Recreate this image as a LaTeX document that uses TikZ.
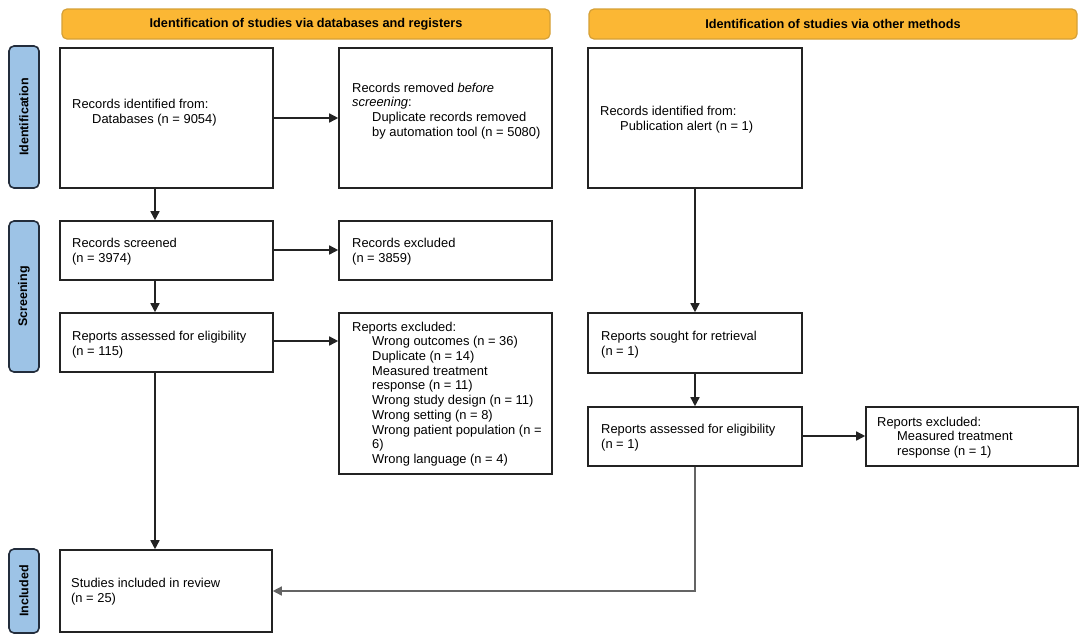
\documentclass[tikz,border=0pt]{standalone}
\usepackage{fontspec}
\setmainfont{Liberation Sans}
\usetikzlibrary{arrows.meta,fit,calc}
\definecolor{hdrfill}{RGB}{251,183,52}
\definecolor{hdrline}{RGB}{214,160,55}
\definecolor{sidefill}{RGB}{157,195,230}
\definecolor{sideline}{RGB}{35,45,60}
\definecolor{boxline}{RGB}{35,35,35}
\definecolor{grayline}{RGB}{100,100,100}
\newcommand{\ind}{\hspace*{20pt}}
\begin{document}
\begin{tikzpicture}[x=1pt,y=-1pt,
  box/.style={draw=boxline, line width=1.6pt, inner sep=0pt},
  hdr/.style={draw=hdrline, fill=hdrfill, line width=1.2pt, rounded corners=5pt, inner sep=0pt},
  side/.style={draw=sideline, fill=sidefill, line width=1.6pt, rounded corners=5pt, inner sep=0pt},
  txt/.style={inner sep=0pt, align=left, anchor=west, font=\fontsize{12.9}{14.7}\selectfont},
  hdrtxt/.style={inner sep=0pt, font=\bfseries\fontsize{12.7}{14}\selectfont},
  sidetxt/.style={inner sep=0pt, rotate=90, font=\bfseries\fontsize{12.5}{14}\selectfont},
  arr/.style={draw=boxline, line width=1.5pt, -{Triangle[length=9pt,width=9pt]}},
  grayarr/.style={draw=grayline, line width=1.5pt, -{Triangle[length=9pt,width=9pt]}},
]
\fill[white] (0,0) rectangle (1084,641);
\useasboundingbox (0,0) rectangle (1084,641);

% headers
\node[hdr, fit={(62,9) (550,39)}] (h1) {};
\node[hdrtxt] (h1t) at (h1.center) {Identification of studies via databases and registers};
\node[hdr, fit={(589,9) (1077,39)}] (h2) {};
\node[hdrtxt] (h2t) at (h2.center) {Identification of studies via other methods};

% side labels
\node[side, fit={(9,46) (39,188)}] (s1) {};
\node[sidetxt] (s1t) at (s1.center) {Identification};
\node[side, fit={(9,221) (39,372)}] (s2) {};
\node[sidetxt] (s2t) at (s2.center) {Screening};
\node[side, fit={(9,549) (39,633)}] (s3) {};
\node[sidetxt] (s3t) at (s3.center) {Included};

% boxes
\node[box, fit={(60,48) (273,188)}] (a) {};
\node[box, fit={(339,48) (552,188)}] (b) {};
\node[box, fit={(588,48) (802,188)}] (c) {};
\node[box, fit={(60,221) (273,280)}] (d) {};
\node[box, fit={(339,221) (552,280)}] (e) {};
\node[box, fit={(60,313) (273,372)}] (f) {};
\node[box, fit={(339,313) (552,474)}] (g) {};
\node[box, fit={(588,313) (802,373)}] (h) {};
\node[box, fit={(588,407) (802,466)}] (i) {};
\node[box, fit={(866,407) (1078,466)}] (j) {};
\node[box, fit={(60,550) (272,632)}] (k) {};

% texts
\node[txt] (ta) at (72,113) {Records identified from:\\\ind Databases (n = 9054)};
\node[txt] (tb) at (352,111) {Records removed \textit{before}\\\textit{screening}:\\\ind Duplicate records removed\\\ind by automation tool (n = 5080)};
\node[txt] (tc) at (600,120) {Records identified from:\\\ind Publication alert (n = 1)};
\node[txt] (td) at (72,251.5) {Records screened\\(n = 3974)};
\node[txt] (te) at (352,251.5) {Records excluded\\(n = 3859)};
\node[txt] (tf) at (72,344.5) {Reports assessed for eligibility\\(n = 115)};
\node[txt] (tg) at (352,394) {Reports excluded:\\\ind Wrong outcomes (n = 36)\\\ind Duplicate (n = 14)\\\ind Measured treatment\\\ind response (n = 11)\\\ind Wrong study design (n = 11)\\\ind Wrong setting (n = 8)\\\ind Wrong patient population (n =\\\ind 6)\\\ind Wrong language (n = 4)};
\node[txt] (th) at (601,345) {Reports sought for retrieval\\(n = 1)};
\node[txt] (ti) at (601,438) {Reports assessed for eligibility\\(n = 1)};
\node[txt] (tj) at (877,437.5) {Reports excluded:\\\ind Measured treatment\\\ind response (n = 1)};
\node[txt] (tk) at (71,591.5) {Studies included in review\\(n = 25)};

% connectors
\coordinate (colL) at (155,0);
\draw[arr] (colL |- a.south) -- (colL |- d.north);
\draw[arr] (colL |- d.south) -- (colL |- f.north);
\draw[arr] (colL |- f.south) -- (colL |- k.north);
\draw[arr] (a.east) -- (b.west);
\draw[arr] ($(d.east)+(0,-0.5)$) -- ($(e.west)+(0,-0.5)$);
\draw[arr] ($(f.east)+(0,-1.5)$) -- ($(f.east -| g.west)+(0,-1.5)$);
\draw[arr] (c.south) -- (h.north);
\draw[arr] (h.south) -- (i.north);
\draw[arr] ($(i.east)+(0,-0.5)$) -- ($(j.west)+(0,-0.5)$);
\draw[grayarr] (i.south) -- (i.south |- k.east) -- (k.east);
\end{tikzpicture}
\end{document}
